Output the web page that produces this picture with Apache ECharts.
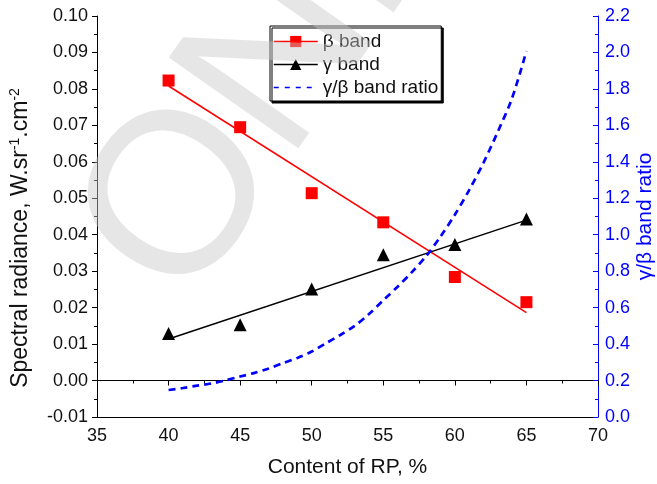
<!DOCTYPE html>
<html>
<head>
<meta charset="utf-8">
<script src="https://cdn.jsdelivr.net/npm/echarts@6/dist/echarts.min.js"></script>
<style>
  html, body { margin: 0; padding: 0; background: #fff; }
  #chart { width: 657px; height: 484px; }
</style>
</head>
<body>
<div id="chart"></div>
<script>
// RP content (%) at which the bands were measured
const rpContent = [40, 45, 50, 55, 60, 65];
// spectral radiance, W.sr-1.cm-2
const betaBand = [0.0823, 0.0695, 0.0514, 0.0434, 0.0284, 0.0215];
const gammaBand = [0.0129, 0.0153, 0.0251, 0.0345, 0.0373, 0.0443];
// linear fits, end points at 40 % and 65 %
const fitX = [40, 65];
const betaFit = [0.0808, 0.0186];
const gammaFit = [0.0114, 0.0440];
// gamma/beta band ratio curve
const ratioX = [40, 41, 42, 43, 44, 45, 46, 47, 48, 49, 50, 51, 52, 53, 54, 55, 56, 57, 58, 59, 60, 61, 62, 63, 64, 65];
const ratioValues = [0.148, 0.159, 0.172, 0.184, 0.201, 0.222, 0.242, 0.266, 0.296, 0.324, 0.359, 0.405, 0.450, 0.500, 0.565, 0.640, 0.715, 0.795, 0.883, 0.990, 1.110, 1.245, 1.395, 1.565, 1.750, 2.008];
// axis ranges
const xTicks = { min: 35, max: 70, step: 5 };
const leftTicks = { min: -0.01, max: 0.10, step: 0.01 };
const rightTicks = { min: 0, max: 2.2, step: 0.2 };

const FONT = "'Liberation Sans', Arial, sans-serif";
const RED = '#ff0000';
const BLUE = '#0000ff';
const INK = '#111111';
const pairs = (xs, ys) => xs.map((x, i) => [x, ys[i]]);

const chart = echarts.init(document.getElementById('chart'), null, { renderer: 'canvas' });

const option = {
  animation: false,
  backgroundColor: '#ffffff',
  textStyle: { fontFamily: FONT },
  grid: { left: 97, right: 59, top: 16, bottom: 67, containLabel: false, outerBoundsMode: 'none' },
  legend: {
    orient: 'vertical',
    left: 270,
    top: 26,
    padding: [6, 3, 4, 3],
    itemGap: 4,
    itemWidth: 44,
    itemHeight: 14,
    backgroundColor: '#ffffff',
    borderColor: '#000000',
    borderWidth: 1,
    shadowColor: '#000000',
    shadowOffsetX: 2,
    shadowOffsetY: 2,
    shadowBlur: 0,
    textStyle: { fontFamily: FONT, fontSize: 19, color: INK },
    data: [
      { name: 'β band', lineStyle: { color: RED, width: 1.5, opacity: 1, type: 'solid' } },
      { name: 'γ band', lineStyle: { color: '#000', width: 1.5, opacity: 1, type: 'solid' } },
      { name: 'γ/β band ratio', lineStyle: { color: BLUE, width: 1.5, opacity: 1, type: [5, 6] }, itemStyle: { opacity: 0 } }
    ]
  },
  xAxis: [
    {
      type: 'value',
      position: 'bottom',
      min: xTicks.min, max: xTicks.max, interval: xTicks.step,
      name: 'Content of RP, %',
      nameLocation: 'middle',
      nameGap: 40,
      nameTextStyle: { fontFamily: FONT, fontSize: 21, color: INK },
      axisLine: { show: true, lineStyle: { color: '#000', width: 1 } },
      axisTick: { show: true, inside: false, length: 5, lineStyle: { color: '#000' } },
      minorTick: { show: true, splitNumber: 2, length: 3, lineStyle: { color: '#000' } },
      axisLabel: { fontFamily: FONT, fontSize: 18, color: INK, margin: 10 },
      splitLine: { show: false }
    },
    {
      type: 'value',
      position: 'top',
      min: xTicks.min, max: xTicks.max,
      axisLine: { show: true, lineStyle: { color: '#000', width: 1 } },
      axisTick: { show: false },
      axisLabel: { show: false },
      splitLine: { show: false }
    }
  ],
  yAxis: [
    {
      type: 'value',
      position: 'left',
      min: leftTicks.min, max: leftTicks.max, interval: leftTicks.step,
      axisLine: { show: true, lineStyle: { color: '#000', width: 1 } },
      axisTick: { show: true, inside: false, length: 5, lineStyle: { color: '#000' } },
      minorTick: { show: true, splitNumber: 2, length: 3, lineStyle: { color: '#000' } },
      axisLabel: { fontFamily: FONT, fontSize: 18, color: INK, margin: 9, formatter: v => v.toFixed(2) },
      splitLine: { show: false }
    },
    {
      type: 'value',
      position: 'right',
      min: rightTicks.min, max: rightTicks.max, interval: rightTicks.step,
      name: 'γ/β band ratio',
      nameLocation: 'middle',
      nameRotate: 90,
      nameGap: 37,
      nameMoveOverlap: false,
      nameTextStyle: { fontFamily: FONT, fontSize: 21, color: BLUE },
      axisLine: { show: true, lineStyle: { color: BLUE, width: 1 } },
      axisTick: { show: true, inside: true, length: 5, lineStyle: { color: BLUE } },
      minorTick: { show: true, splitNumber: 2, length: 3, lineStyle: { color: BLUE } },
      axisLabel: { fontFamily: FONT, fontSize: 18, color: BLUE, margin: 7, formatter: v => v.toFixed(1) },
      splitLine: { show: false }
    }
  ],
  series: [
    {
      name: 'β fit',
      type: 'line',
      xAxisIndex: 0, yAxisIndex: 0,
      data: pairs(fitX, betaFit),
      symbol: 'none',
      lineStyle: { color: RED, width: 1.5 },
      z: 2
    },
    {
      name: 'γ fit',
      type: 'line',
      xAxisIndex: 0, yAxisIndex: 0,
      data: pairs(fitX, gammaFit),
      symbol: 'none',
      lineStyle: { color: '#000', width: 1.5 },
      z: 2
    },
    {
      name: 'γ/β band ratio',
      type: 'line',
      xAxisIndex: 0, yAxisIndex: 1,
      data: pairs(ratioX, ratioValues),
      smooth: 0.3,
      symbol: 'none',
      itemStyle: { color: BLUE },
      lineStyle: { color: BLUE, width: 2.7, type: [7, 5] },
      z: 3
    },
    {
      name: 'β band',
      type: 'line',
      xAxisIndex: 0, yAxisIndex: 0,
      data: pairs(rpContent, betaBand),
      symbol: 'rect',
      symbolSize: 12,
      itemStyle: { color: RED },
      lineStyle: { opacity: 0 },
      z: 4
    },
    {
      name: 'γ band',
      type: 'line',
      xAxisIndex: 0, yAxisIndex: 0,
      data: pairs(rpContent, gammaBand),
      symbol: 'triangle',
      symbolSize: 13,
      itemStyle: { color: '#000' },
      lineStyle: { opacity: 0 },
      z: 4
    }
  ],
  graphic: [
    {
      // left axis title with superscript units
      type: 'text',
      x: 21,
      y: 238,
      rotation: Math.PI / 2,
      silent: true,
      style: {
        text: '{n|Spectral radiance, W.sr}{s|-1}{n|.cm}{s|-2}',
        textAlign: 'center',
        textVerticalAlign: 'middle',
        rich: {
          n: { fontFamily: FONT, fontSize: 23, fill: INK, lineHeight: 25 },
          s: { fontFamily: FONT, fontSize: 14, fill: INK, lineHeight: 14, verticalAlign: 'top' }
        }
      }
    },
    {
      type: 'text',
      x: 133,
      y: 274,
      rotation: 55 * Math.PI / 180,
      silent: true,
      z: 100,
      style: {
        text: 'ONLINE',
        font: "230px 'Liberation Sans', Arial, sans-serif",
        fill: 'rgba(200,200,200,0.45)',
        textAlign: 'left',
        textVerticalAlign: 'middle'
      }
    }
  ]
};

chart.setOption(option);
</script>
</body>
</html>
